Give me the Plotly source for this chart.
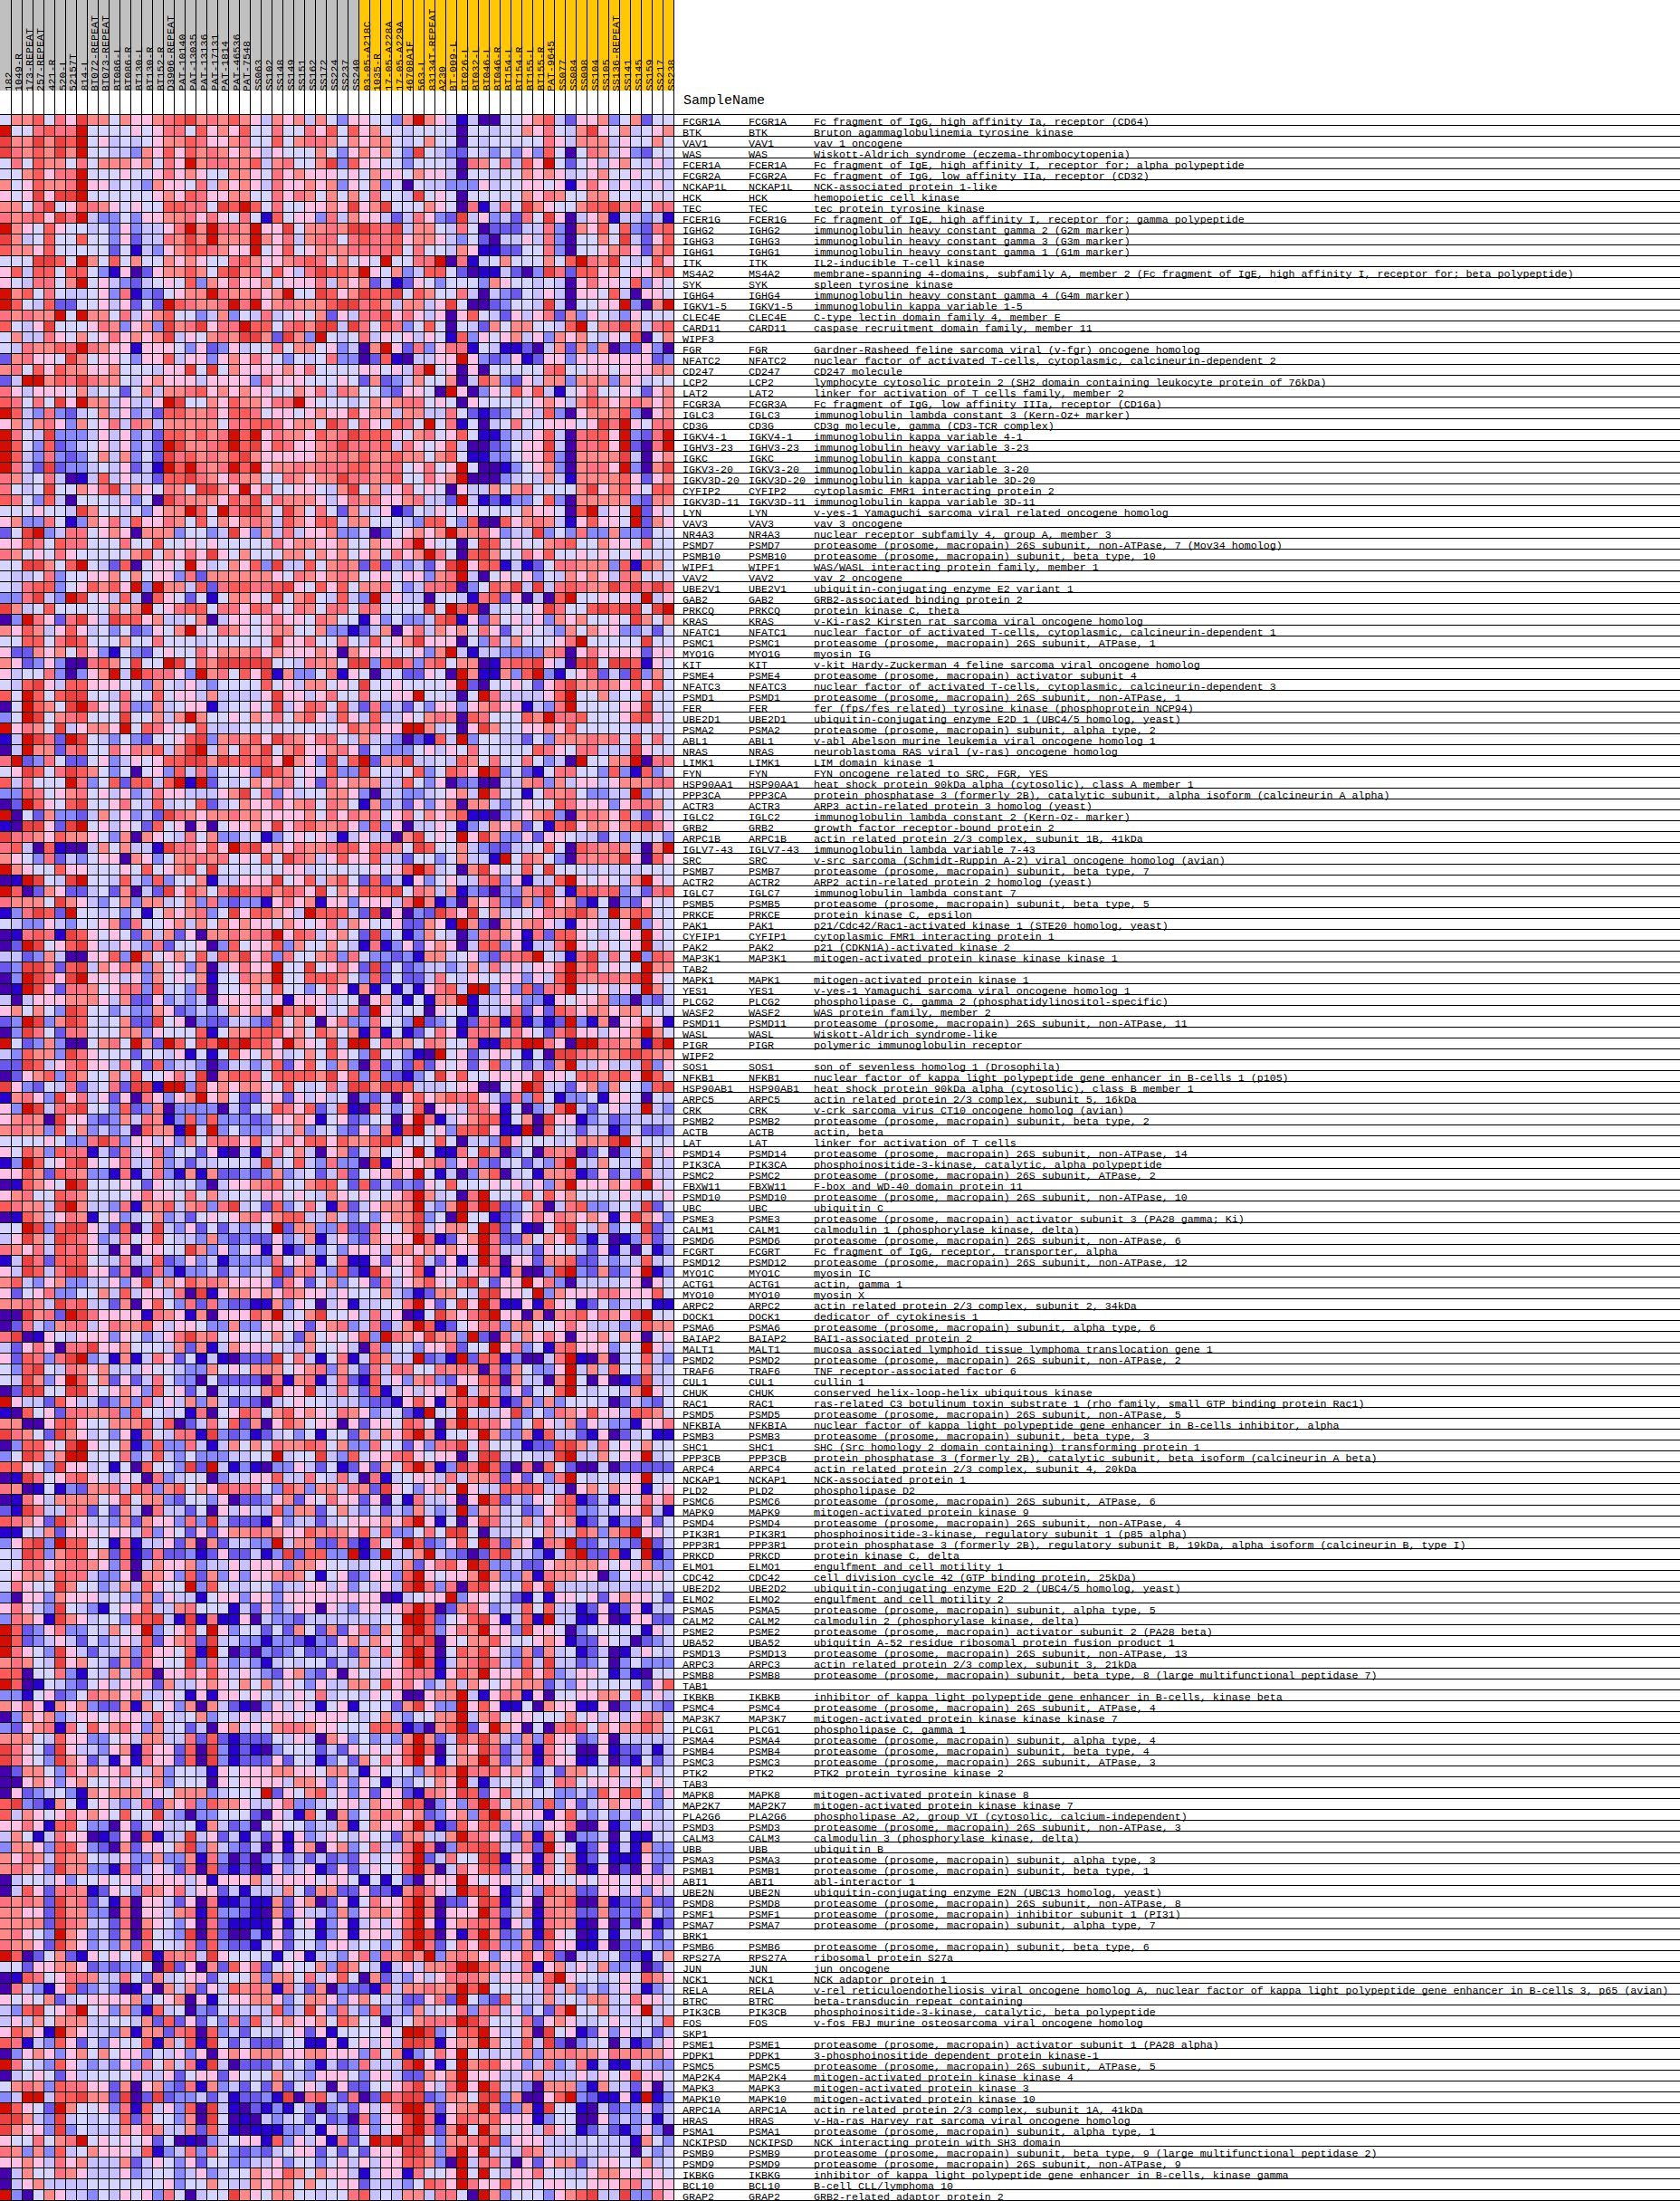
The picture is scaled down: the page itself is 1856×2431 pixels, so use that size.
import plotly.graph_objects as go

# sample groups, left to right
GROUP_A = ["182", "1049-R", "173-REPEAT", "257-REPEAT", "421-R", "520-L", "52157T", "814-L", "BT072-REPEAT",
           "BT073-REPEAT", "BT086-L", "BT086-R", "BT130-L", "BT130-R", "BT152-R", "D3906-REPEAT", "PAT-10140",
           "PAT-13035", "PAT-13136", "PAT-17131", "PAT-1814", "PAT-46536", "PAT-7548", "SS063", "SS102", "SS148",
           "SS149", "SS151", "SS162", "SS172", "SS224", "SS237", "SS240"]
GROUP_B = ["03-05-A218C", "1035-R", "17-05-A228A", "17-05-A229A", "46708A1F", "563-L", "83134T-REPEAT", "A230",
           "BT-009-L", "BT026-L", "BT032-L", "BT046-L", "BT046-R", "BT154-L", "BT154-R", "BT155-L", "BT155-R",
           "PAT-9645", "SS077", "SS084", "SS098", "SS104", "SS105", "SS136-REPEAT", "SS141", "SS145", "SS159",
           "SS217", "SS238"]

PROT = "proteasome (prosome, macropain) "
GENES = [
    ("FCGR1A", "Fc fragment of IgG, high affinity Ia, receptor (CD64)"),
    ("BTK", "Bruton agammaglobulinemia tyrosine kinase"),
    ("VAV1", "vav 1 oncogene"),
    ("WAS", "Wiskott-Aldrich syndrome (eczema-thrombocytopenia)"),
    ("FCER1A", "Fc fragment of IgE, high affinity I, receptor for; alpha polypeptide"),
    ("FCGR2A", "Fc fragment of IgG, low affinity IIa, receptor (CD32)"),
    ("NCKAP1L", "NCK-associated protein 1-like"),
    ("HCK", "hemopoietic cell kinase"),
    ("TEC", "tec protein tyrosine kinase"),
    ("FCER1G", "Fc fragment of IgE, high affinity I, receptor for; gamma polypeptide"),
    ("IGHG2", "immunoglobulin heavy constant gamma 2 (G2m marker)"),
    ("IGHG3", "immunoglobulin heavy constant gamma 3 (G3m marker)"),
    ("IGHG1", "immunoglobulin heavy constant gamma 1 (G1m marker)"),
    ("ITK", "IL2-inducible T-cell kinase"),
    ("MS4A2", "membrane-spanning 4-domains, subfamily A, member 2 (Fc fragment of IgE, high affinity I, receptor for; beta polypeptide)"),
    ("SYK", "spleen tyrosine kinase"),
    ("IGHG4", "immunoglobulin heavy constant gamma 4 (G4m marker)"),
    ("IGKV1-5", "immunoglobulin kappa variable 1-5"),
    ("CLEC4E", "C-type lectin domain family 4, member E"),
    ("CARD11", "caspase recruitment domain family, member 11"),
    ("WIPF3", None),
    ("FGR", "Gardner-Rasheed feline sarcoma viral (v-fgr) oncogene homolog"),
    ("NFATC2", "nuclear factor of activated T-cells, cytoplasmic, calcineurin-dependent 2"),
    ("CD247", "CD247 molecule"),
    ("LCP2", "lymphocyte cytosolic protein 2 (SH2 domain containing leukocyte protein of 76kDa)"),
    ("LAT2", "linker for activation of T cells family, member 2"),
    ("FCGR3A", "Fc fragment of IgG, low affinity IIIa, receptor (CD16a)"),
    ("IGLC3", "immunoglobulin lambda constant 3 (Kern-Oz+ marker)"),
    ("CD3G", "CD3g molecule, gamma (CD3-TCR complex)"),
    ("IGKV4-1", "immunoglobulin kappa variable 4-1"),
    ("IGHV3-23", "immunoglobulin heavy variable 3-23"),
    ("IGKC", "immunoglobulin kappa constant"),
    ("IGKV3-20", "immunoglobulin kappa variable 3-20"),
    ("IGKV3D-20", "immunoglobulin kappa variable 3D-20"),
    ("CYFIP2", "cytoplasmic FMR1 interacting protein 2"),
    ("IGKV3D-11", "immunoglobulin kappa variable 3D-11"),
    ("LYN", "v-yes-1 Yamaguchi sarcoma viral related oncogene homolog"),
    ("VAV3", "vav 3 oncogene"),
    ("NR4A3", "nuclear receptor subfamily 4, group A, member 3"),
    ("PSMD7", PROT + "26S subunit, non-ATPase, 7 (Mov34 homolog)"),
    ("PSMB10", PROT + "subunit, beta type, 10"),
    ("WIPF1", "WAS/WASL interacting protein family, member 1"),
    ("VAV2", "vav 2 oncogene"),
    ("UBE2V1", "ubiquitin-conjugating enzyme E2 variant 1"),
    ("GAB2", "GRB2-associated binding protein 2"),
    ("PRKCQ", "protein kinase C, theta"),
    ("KRAS", "v-Ki-ras2 Kirsten rat sarcoma viral oncogene homolog"),
    ("NFATC1", "nuclear factor of activated T-cells, cytoplasmic, calcineurin-dependent 1"),
    ("PSMC1", PROT + "26S subunit, ATPase, 1"),
    ("MYO1G", "myosin IG"),
    ("KIT", "v-kit Hardy-Zuckerman 4 feline sarcoma viral oncogene homolog"),
    ("PSME4", PROT + "activator subunit 4"),
    ("NFATC3", "nuclear factor of activated T-cells, cytoplasmic, calcineurin-dependent 3"),
    ("PSMD1", PROT + "26S subunit, non-ATPase, 1"),
    ("FER", "fer (fps/fes related) tyrosine kinase (phosphoprotein NCP94)"),
    ("UBE2D1", "ubiquitin-conjugating enzyme E2D 1 (UBC4/5 homolog, yeast)"),
    ("PSMA2", PROT + "subunit, alpha type, 2"),
    ("ABL1", "v-abl Abelson murine leukemia viral oncogene homolog 1"),
    ("NRAS", "neuroblastoma RAS viral (v-ras) oncogene homolog"),
    ("LIMK1", "LIM domain kinase 1"),
    ("FYN", "FYN oncogene related to SRC, FGR, YES"),
    ("HSP90AA1", "heat shock protein 90kDa alpha (cytosolic), class A member 1"),
    ("PPP3CA", "protein phosphatase 3 (formerly 2B), catalytic subunit, alpha isoform (calcineurin A alpha)"),
    ("ACTR3", "ARP3 actin-related protein 3 homolog (yeast)"),
    ("IGLC2", "immunoglobulin lambda constant 2 (Kern-Oz- marker)"),
    ("GRB2", "growth factor receptor-bound protein 2"),
    ("ARPC1B", "actin related protein 2/3 complex, subunit 1B, 41kDa"),
    ("IGLV7-43", "immunoglobulin lambda variable 7-43"),
    ("SRC", "v-src sarcoma (Schmidt-Ruppin A-2) viral oncogene homolog (avian)"),
    ("PSMB7", PROT + "subunit, beta type, 7"),
    ("ACTR2", "ARP2 actin-related protein 2 homolog (yeast)"),
    ("IGLC7", "immunoglobulin lambda constant 7"),
    ("PSMB5", PROT + "subunit, beta type, 5"),
    ("PRKCE", "protein kinase C, epsilon"),
    ("PAK1", "p21/Cdc42/Rac1-activated kinase 1 (STE20 homolog, yeast)"),
    ("CYFIP1", "cytoplasmic FMR1 interacting protein 1"),
    ("PAK2", "p21 (CDKN1A)-activated kinase 2"),
    ("MAP3K1", "mitogen-activated protein kinase kinase kinase 1"),
    ("TAB2", None),
    ("MAPK1", "mitogen-activated protein kinase 1"),
    ("YES1", "v-yes-1 Yamaguchi sarcoma viral oncogene homolog 1"),
    ("PLCG2", "phospholipase C, gamma 2 (phosphatidylinositol-specific)"),
    ("WASF2", "WAS protein family, member 2"),
    ("PSMD11", PROT + "26S subunit, non-ATPase, 11"),
    ("WASL", "Wiskott-Aldrich syndrome-like"),
    ("PIGR", "polymeric immunoglobulin receptor"),
    ("WIPF2", None),
    ("SOS1", "son of sevenless homolog 1 (Drosophila)"),
    ("NFKB1", "nuclear factor of kappa light polypeptide gene enhancer in B-cells 1 (p105)"),
    ("HSP90AB1", "heat shock protein 90kDa alpha (cytosolic), class B member 1"),
    ("ARPC5", "actin related protein 2/3 complex, subunit 5, 16kDa"),
    ("CRK", "v-crk sarcoma virus CT10 oncogene homolog (avian)"),
    ("PSMB2", PROT + "subunit, beta type, 2"),
    ("ACTB", "actin, beta"),
    ("LAT", "linker for activation of T cells"),
    ("PSMD14", PROT + "26S subunit, non-ATPase, 14"),
    ("PIK3CA", "phosphoinositide-3-kinase, catalytic, alpha polypeptide"),
    ("PSMC2", PROT + "26S subunit, ATPase, 2"),
    ("FBXW11", "F-box and WD-40 domain protein 11"),
    ("PSMD10", PROT + "26S subunit, non-ATPase, 10"),
    ("UBC", "ubiquitin C"),
    ("PSME3", PROT + "activator subunit 3 (PA28 gamma; Ki)"),
    ("CALM1", "calmodulin 1 (phosphorylase kinase, delta)"),
    ("PSMD6", PROT + "26S subunit, non-ATPase, 6"),
    ("FCGRT", "Fc fragment of IgG, receptor, transporter, alpha"),
    ("PSMD12", PROT + "26S subunit, non-ATPase, 12"),
    ("MYO1C", "myosin IC"),
    ("ACTG1", "actin, gamma 1"),
    ("MYO10", "myosin X"),
    ("ARPC2", "actin related protein 2/3 complex, subunit 2, 34kDa"),
    ("DOCK1", "dedicator of cytokinesis 1"),
    ("PSMA6", PROT + "subunit, alpha type, 6"),
    ("BAIAP2", "BAI1-associated protein 2"),
    ("MALT1", "mucosa associated lymphoid tissue lymphoma translocation gene 1"),
    ("PSMD2", PROT + "26S subunit, non-ATPase, 2"),
    ("TRAF6", "TNF receptor-associated factor 6"),
    ("CUL1", "cullin 1"),
    ("CHUK", "conserved helix-loop-helix ubiquitous kinase"),
    ("RAC1", "ras-related C3 botulinum toxin substrate 1 (rho family, small GTP binding protein Rac1)"),
    ("PSMD5", PROT + "26S subunit, non-ATPase, 5"),
    ("NFKBIA", "nuclear factor of kappa light polypeptide gene enhancer in B-cells inhibitor, alpha"),
    ("PSMB3", PROT + "subunit, beta type, 3"),
    ("SHC1", "SHC (Src homology 2 domain containing) transforming protein 1"),
    ("PPP3CB", "protein phosphatase 3 (formerly 2B), catalytic subunit, beta isoform (calcineurin A beta)"),
    ("ARPC4", "actin related protein 2/3 complex, subunit 4, 20kDa"),
    ("NCKAP1", "NCK-associated protein 1"),
    ("PLD2", "phospholipase D2"),
    ("PSMC6", PROT + "26S subunit, ATPase, 6"),
    ("MAPK9", "mitogen-activated protein kinase 9"),
    ("PSMD4", PROT + "26S subunit, non-ATPase, 4"),
    ("PIK3R1", "phosphoinositide-3-kinase, regulatory subunit 1 (p85 alpha)"),
    ("PPP3R1", "protein phosphatase 3 (formerly 2B), regulatory subunit B, 19kDa, alpha isoform (calcineurin B, type I)"),
    ("PRKCD", "protein kinase C, delta"),
    ("ELMO1", "engulfment and cell motility 1"),
    ("CDC42", "cell division cycle 42 (GTP binding protein, 25kDa)"),
    ("UBE2D2", "ubiquitin-conjugating enzyme E2D 2 (UBC4/5 homolog, yeast)"),
    ("ELMO2", "engulfment and cell motility 2"),
    ("PSMA5", PROT + "subunit, alpha type, 5"),
    ("CALM2", "calmodulin 2 (phosphorylase kinase, delta)"),
    ("PSME2", PROT + "activator subunit 2 (PA28 beta)"),
    ("UBA52", "ubiquitin A-52 residue ribosomal protein fusion product 1"),
    ("PSMD13", PROT + "26S subunit, non-ATPase, 13"),
    ("ARPC3", "actin related protein 2/3 complex, subunit 3, 21kDa"),
    ("PSMB8", PROT + "subunit, beta type, 8 (large multifunctional peptidase 7)"),
    ("TAB1", None),
    ("IKBKB", "inhibitor of kappa light polypeptide gene enhancer in B-cells, kinase beta"),
    ("PSMC4", PROT + "26S subunit, ATPase, 4"),
    ("MAP3K7", "mitogen-activated protein kinase kinase kinase 7"),
    ("PLCG1", "phospholipase C, gamma 1"),
    ("PSMA4", PROT + "subunit, alpha type, 4"),
    ("PSMB4", PROT + "subunit, beta type, 4"),
    ("PSMC3", PROT + "26S subunit, ATPase, 3"),
    ("PTK2", "PTK2 protein tyrosine kinase 2"),
    ("TAB3", None),
    ("MAPK8", "mitogen-activated protein kinase 8"),
    ("MAP2K7", "mitogen-activated protein kinase kinase 7"),
    ("PLA2G6", "phospholipase A2, group VI (cytosolic, calcium-independent)"),
    ("PSMD3", PROT + "26S subunit, non-ATPase, 3"),
    ("CALM3", "calmodulin 3 (phosphorylase kinase, delta)"),
    ("UBB", "ubiquitin B"),
    ("PSMA3", PROT + "subunit, alpha type, 3"),
    ("PSMB1", PROT + "subunit, beta type, 1"),
    ("ABI1", "abl-interactor 1"),
    ("UBE2N", "ubiquitin-conjugating enzyme E2N (UBC13 homolog, yeast)"),
    ("PSMD8", PROT + "26S subunit, non-ATPase, 8"),
    ("PSMF1", PROT + "inhibitor subunit 1 (PI31)"),
    ("PSMA7", PROT + "subunit, alpha type, 7"),
    ("BRK1", None),
    ("PSMB6", PROT + "subunit, beta type, 6"),
    ("RPS27A", "ribosomal protein S27a"),
    ("JUN", "jun oncogene"),
    ("NCK1", "NCK adaptor protein 1"),
    ("RELA", "v-rel reticuloendotheliosis viral oncogene homolog A, nuclear factor of kappa light polypeptide gene enhancer in B-cells 3, p65 (avian)"),
    ("BTRC", "beta-transducin repeat containing"),
    ("PIK3CB", "phosphoinositide-3-kinase, catalytic, beta polypeptide"),
    ("FOS", "v-fos FBJ murine osteosarcoma viral oncogene homolog"),
    ("SKP1", None),
    ("PSME1", PROT + "activator subunit 1 (PA28 alpha)"),
    ("PDPK1", "3-phosphoinositide dependent protein kinase-1"),
    ("PSMC5", PROT + "26S subunit, ATPase, 5"),
    ("MAP2K4", "mitogen-activated protein kinase kinase 4"),
    ("MAPK3", "mitogen-activated protein kinase 3"),
    ("MAPK10", "mitogen-activated protein kinase 10"),
    ("ARPC1A", "actin related protein 2/3 complex, subunit 1A, 41kDa"),
    ("HRAS", "v-Ha-ras Harvey rat sarcoma viral oncogene homolog"),
    ("PSMA1", PROT + "subunit, alpha type, 1"),
    ("NCKIPSD", "NCK interacting protein with SH3 domain"),
    ("PSMB9", PROT + "subunit, beta type, 9 (large multifunctional peptidase 2)"),
    ("PSMD9", PROT + "26S subunit, non-ATPase, 9"),
    ("IKBKG", "inhibitor of kappa light polypeptide gene enhancer in B-cells, kinase gamma"),
    ("BCL10", "B-cell CLL/lymphoma 10"),
    ("GRAP2", "GRB2-related adaptor protein 2"),
]

# colour bins, lowest to highest
PALETTE = ["#4500AD", "#2700D1", "#6B58EF", "#8888FF", "#C7C1FF", "#D5D5FF",
           "#FFC0E5", "#FF8989", "#FF7080", "#FF5A5A", "#EF4040", "#D60C00"]
BIN_KEYS = "abcdefghijkl"

# one row per gene, one letter per sample
CELLS = [
    "fhhjfigkhh fhgghijkhi hjhgehgheh fdggffdhlh gebeaaffgh jecgghdfhc ff",
    "lffijiilff ffgfgiifjg hgjffiffig jfjghffeff feaffeffhg ifehkgfhef gh",
    "khhkhkjlfg efefghhjig ghiffjfhii hfhghhfefh ffafefffff igehhhegff hf",
    "kihjhkhlff eedhgjgjhi hghgegfffh fdghghfdkf edcfedfdgd jfafihegdc ff",
    "fifjhhfifh hhghfiglhi ihhjehiffh kdjggffdff feaihfiejg lfcfgeghfe ge",
    "ffhjgiilff fgffgighgf fhhgfighgg gfgfhggfhg geaffeffhg hgefghffgf ff",
    "hfgjhhilgg efedhggfie hghgeigghg hdgfhdfafe edddgeffgg fgbgigegee ge",
    "gfgkgkklff ffffghgjig ghhffigihf hfhfiffekf gfafffffhg ihffhhffff ff",
    "hhfikfgjih gfgffjjiif kjljfiffgg hgkghkfffh gfaibeifkh gffhjjkhif ii",
    "ihijgkiled dfdgghhigi gfifbjfggd iehggeceig dckegdecif kgaeghbeed eb",
    "lhgfjgffef dgdeegilhl iihlggkfhh ihkkjikehh feifacccee idahgjfjdc ij",
    "khefjffjff dgceeihkhl hhhlhgiehi ifijiijghh gedfcaeege idaffhfkec gj",
    "jhhgjfffff cfbedghjji hgglfgjfgh hhiiiijfif fehgbbccff idaffghigc hj",
    "fffkkjflhf jfhffhghgf fijhgghiji fhfgflffii laibefhfff hfjlihkfef jg",
    "gjejjfjjfd bgacghhjhf jkhifjgeik jjhlgfhdej jfcabbecad kicjjghfgg hj",
    "gfeiifhlfg edcefgfjdh gigghfgggi ehghcebcgf dfffdhgffe feagiggfjd gf",
    "lhjfifeefg dibdcfghhl ihhighlffk jghkjjkfjh ffieaedcfe geaggfjeag gf",
    "ljfejccffg egcfcljihh ililghihhh jkkijhehhe gkfaacdffe keaffgglda hl",
    "ihihhlflhh fieghjffde hdfeiefgfh cgeiikgige gagjfecgeg ichdgfedgf ff",
    "jfegkfffgi hdghdkhikg iiljjfijhk kekifjidfj fafechfhhf fejlfhikhe ij",
    "fheeigfhfg ighghkegfh ihkkhckhdl fefiegfgeg fbjdgfgheg dhghfegfja fh",
    "feihhjilih ggbgggfdgc dgeffifhhf gdeahlgcid giibfebbca ehchdhaccg da",
    "chiggfkhfg gfdggjeggd ghgigfdfef iddacjbaee gglgdcdgbc ggdggggggg cd",
    "hifjgjhhgg hfffeggkfk fhgggghgif fffggfgeil fgagafffff ijffggfggg hh",
    "cellhjikih hfeghgggeg gggdigggff fgfchcdehf fhaejhdcge hhdhhhdhge ff",
    "igegggfhef fcfhehhijg hghggffhgi eihffdcggf algadgfjgj ebfgiffgfc gh",
    "jififkglhh egeeglkffh gjhhgiilgf ffefhghiif gfagfffffg hgehjhghih gh",
    "ljedidcefh egdecjjhhi gjjifggfgh ggjghhehhe eifcbcdfge jdaghhhjda gh",
    "ghehigdhfg ieihehhhhh fiijjighhf kifigfjifl fibfaefiff gggfgkilgf ii",
    "lifekdddeg egdecjjhjh iljlgihhgj hikjjjgfhi fgjfbbdeeg jeaijjgldc il",
    "ljfdjcdefg egdeclkhhi jljkgjiggh ikiiijeigf gjeaacdfgg keaiijglca il",
    "ljedidcdfh ehdfckijhi hjkhgggggh hihjhhjhhf hjfbbddfgg jdahhhhkea gh",
    "lieckcddef egcebljlih iljlghhihi iijjhiifgi fglfaabdfg hdahiiglda hk",
    "ihefieabej egeecjjkih gihhffihgh hkiihhjffi ghlaaadefe hebhhhhjgc gh",
    "ifefkffhgi kehgfihfkk hglgiffggf ehkfhegifg fageehfhif fffhkghjgf jj",
    "jifdjeafff egdfakihhh gjhkfihhhg egihigghie eclebcbddf jdahhhhhdc hh",
    "fffgffekhf fefdghhljf likkhfkhfi fcheegbcfe gfgfffffhg gfajlegflc gf",
    "ghddifbdhg iejggihfjf hghihejhgj jehhfffedj jfdjaajghi hebgjggflc hg",
    "cfkldeiifg hgahhhdffd ekgdheiegg hddeacfghg hlhhigdeek dfdiddhddc ff",
    "ggjifjiiff fiffjffgfg fffffighhg ghffhggilg ffafkjfgff hijffhggfi ff",
    "ihfgfigfff ffhjfhgigk gfhfffhhfh ghfghfighl ifajkhffig jffgfgffgf ff",
    "ffkkhfjlfe cjafggflge fhgjdkeejf hihcjcedec gklgjjbebc fiihhhdjbj hf",
    "feefidffgg hfhfggdich hhhhhgfihg hihfggfggd hileafgfgd fehghgeihf ff",
    "feijjdfgjh jgldlhhejc ijjiijkgfj gjfhhifdei ijadfjhkek eijihhkiki ki",
    "ddikedlkfg ejeajgfcfb fhhgfkfhjf ejedlegeea ffebijcgae ajlffgfgel eg",
    "khefjfffff hfhlfgijjf iigjigfihf iifiiffffk fljkaefffg kiffjkjkkf kl",
    "adligcikge kjjgheefha eggfgiggfi hffbgdfdde jkbgchfgeg dhghffgfkh fh",
    "hgjhegjgef dfcdgfhlgf ihgfghhffh ddbcehagie hghfigcfgf edhfhggdde cf",
    "ffjjfikjff fhffifffef fffffkggif fifejfghkg ggafdiehff fgilfffffk ff",
    "gcchghfigd bfdcfgffig hhhighgggh gahgggffgd hlebeedddd hiagiggggc gg",
    "hgcdgdaaij hfkfflkfjh kkkkkffeih hfkkdjkidi jfhhabijjk geakkfkkjb gf",
    "geffidadgh leljiigdlh ifjgkbhddf ibgfaefccg falhbbhdjl dbfgiceckd hf",
    "fejkgejjgg gffdhfeged ffffjfgehh fgfkffgfff fglcaffgfc gikhhihgjg jf",
    "jfljfjkkff eiffjfggeh eeeegkggeg iffiffgglf feaflieeee gjlffheffj ff",
    "afljhfklig fiddhefggb effgfkegji fjecidecfd ggdghiggbe dilffffggk ff",
    "dflkfhijff fkffhehlhf fgfhgifhjg ejgejeegfh ihajifffjh liijfffgjk gf",
    "lgihfkeghh glfjigffje eeffffffff fgjhiggllh efagkhffgg hgjfffffef ff",
    "belkiclkfe dfdcffgjkd hihjgkihgi ifeheedacb jeldffeecf dhhhihifjf if",
    "aelhhcijff igihjehkle hfjhkfhjgg higcfdddfg egfifffffj igfiieeekg ff",
    "ilcdifccfg degfgjjkkh kjjjjglhgd kejlchhkee fejhfiffif dealffhhla ii",
    "fgkjfikjhf dfafgdjeid ffgdkjhfgf jddkffefjd fjiglkdfcb fiiffdjdbj df",
    "jeifffl idf jcjjejlblc fefhghifgc ighhheejfd gacdaaeehi dheggeghhh ii",
    "ddjifghifg egdeiggeee ghkfidgeff hhgdaeedde fgheliffbf ihifddeeld ff",
    "acljgfjkff gifejeffjc efhggighif ihfbhdecgd ghahhedfgf fjigggdgii hf",
    "lafchddceh egdeckihgh hihhgggghf igihifgifh ghjbbadegh jdahihgjec gf",
    "bakkgcklfg egfcjfgaga fgghgkgijh higdjdgaee gfbdehghcf bjkghhghjk ig",
    "kiihgjhhgf dhahgfeifh ddefbdfgfg ebegeeahkf gflgkhddgc ggfeecfdfe fd",
    "ijeajbaaeh fheebkiigj gljkghgihh ijjgjihfkj ffhedcceef jfajihihea hl",
    "hgfdicedfg gahgdfhhih ifgfjfkihe gjggjeecff dfheeblfih fdaihihkga jg",
    "lhgffjggff fgfjfghjfk ffffffggef ffffgfgjlj efahkgffjf kfffefefef ff",
    "ablkfeklff ejedjdffhb eegggkfgje hjfcjcebgd fgeeijdgbe ejlgfgfehl gf",
    "ljachgccef chaeckgjhf ikjijhjigk fhgjjjkfih ehbdcaddhi kebjjijdec ij",
    "ihhhfkhged fhdhhefhdi dcddbgighb ggdgggeilh bdahgidchd jghcbfadcg ff",
    "bdikjclffe fdfbfhghid fkgjjhgelj jjeckagadc kigkfheffg ihjkhelhjj ff",
    "feddgedffg hciffghehf hghggfhgfg iehgffgcch gblhcahghi gebggeegld gf",
    "abijibkjgf gfchehcgah hihiilgjie ghfckdfbdh feadiihgbi cjjgfefggl gf",
    "aclkfgjkge egedicffga djfggjdhff hfebibdgcg hgaejjdgbe eilgfgffgl ef",
    "eecdheaagg jdlhfghfje jhkgidiffh idieddcdbh hefgdciijl febikeifld ji",
    "cdkkhcjkeh gihdhfgdha egigglffkf gigckcfcde edeheiegeg gilhjfgffl hh",
    "adlkigklgg gegdhfgfhb ffihhlffjj jhfdjcfcce ifegffggdg ejlihiihkl gf",
    "ablkgciihf giidjefdia ffghfjffdf igbhbfbebg ijelldgdjc iilffgegel hf",
    "eaeggghhhg ehccgdedea ggggegbggg effaghebfb hhlbeeggdd bgfgghddad ce",
    "ghfhfdkjff deddhgcded ehghglihkg eficlgeffa gffbeeeicg cjighhghhf ff",
    "cdlkdhkjfe fhcckfgadc ceedcjfhfa giddiffdlc dfbcijbkbd bcldbhaggj gb",
    "adkifciiff fhhdgfffjb fhhjjjghfj hfhbibfbcf igbiihfigf cikggegghl hf",
    "lfcdhdaafh iflhcljfkj lkljjglhgf kellfiihfi hffibbkjll igalliihhb kl",
    "edjhhdkigf ffcffegbfb fjgfhgefhf jgfdkffdba lfgceggfbf akkihhhjkj hh",
    "cckjegijgg eifcjdeeda ceedejcgjf dhdaicecjc gfgcgjdfce chleegeeek dg",
    "acghjdjhff hejffgieka hjjifjjjjh kgjdjdcbdf kgjffggggk ggfjjhjjgl jf",
    "kgdcfeicef ickkblldkg hghhgfjfef iekkhkjjee efggaafglk eecghdhffd jk",
    "bhigdkgieg cgaigdghlg hfccggcgeg efadceagjg hjijgecidj fbddfbggfa fe",
    "gdlkeijkff djcdhadddd aecffjigjc ejbajedfja ggeiigbfad ejlecfgeel ed",
    "ghihakggdc dheihbdjdj dddcdgghgb fgcdffagli beghjjbfha kggbdecdee ee",
    "hihhdjfhde deajhhblel dfdddeehde fdcgdhbklf gdjjkgbbla jfeceebdfc cd",
    "ffffgfddik idggegdhfi iigjfgigjj gjhhjkjfff jfaeedkgff fefhhhklgf ff",
    "gfjhdjiibe ciegidffcg baebeifhea ghcehffglf bbifkhadfa ihiacfadfh eg",
    "bdljfgjkgf gieehdecee fffekefjed iddakbgggh idgidcefce dileehfefk fe",
    "ggjhcjihdd bibeidbhbh ccdcdhdefc eicfgghglf beadhjaefb hhibcgcech ee",
    "abjhgflkff fgfcgfefda egghijffhj jfcjcecdcg fjfffgfgeg dhlggghgjl gf",
    "ghiffjihff ffgiggfifh efffggfgfe hgfgffgilh efailfffjf jghffffgff fg",
    "jihheklhee dibhhjehid ikefcjdfif biceghhhle dhlilkcdfi aeijddefek cf",
    "abjhegihbf gdefhdecfg fghighjjee hedfdghhkd falffbcdgi gihghgbgkh gd",
    "fflkdjkkge cjaekedgcf cedeflchhd dicciffhke ghhflkcfba fjkfehdffk ce",
    "egkhekjigd eifgjfeedh dcdccgdehb egdchgggli bcghlicchf hgkdbeabdi ce",
    "ihgiejijge agaggffkhd gdfgbgbced fdgggehhgh ghggliee ec gffecgbeaf bd",
    "bekicjjjfe eieejcdgde bddddifghb fibbgcggje cgbeliaggc hhjccedeej ef",
    "gekjeikkgg ciacidbdde cedefkchie djcbkgfgjb ggegiibhaa dkldchcdgl bd",
    "hjedghddee gdgkehgjhi hggggcigcf hdfgcieghj gfjkfcgglg idaeeeefga gf",
    "gcfgiddffh ejeggeiakb ghhghgihgg egfffhedbc hhfekkggfl dhgggiiggg jf",
    "hhihekijee chagjfdici dccbbhdgfa egbeeffilg cfkglibbgb jgfbcfdeef bb",
    "aakhiclkig gggbihgbha gggjhlefhk ffgeiegabf khgiklggah ahijgihgkl ff",
    "aciedhiieg ihhjgeggfd dhddggfgcg hideicehlj bcfgiidhhf fgigeeedej hh",
    "ikabgfeggg dgfdegikhi fgfffhfchf gfgjdlihgk hhdlcaiehg igagghfhga fg",
    "ecgigaiikg ghfffehchb ehgggfeehf fgeaidffdg gicfflgidf bijgggdffl ge",
    "gcjidiklde bhbeigcfbe baccckfieb fibejheelc dblcjjbdaa eilbahaefj ed",
    "fdjkfeihgh eeegffeddh fgfhhhfghi dhecieiiff ihihaichfd dglehejffh ef",
    "fekhdgljfh cgceifddaf ccccaibhib eicbjegdhi dcggjjahee ahlfagabck ee",
    "ackkffkkgf ghgdjfgcfa efefhkggke eiecjbegeg ghlehhdgcf fjlfeffehl gf",
    "lgeecjgeec dhdiegehdh ecdcaefgff eeedccbgjg bhjilibchd hdfffeaced cf",
    "bajfgciihh idjffefbia fgjifhjghg fihgdefcbl fflfeegkdf dihgjggejj hf",
    "hhaagjjgff hhhjejacei fjchagjhfg gagcggfjif ahljiigdfj gehcgeddbg gi",
    "kihfckhgef dgbifeiibk dcdbcefdfb ffchehgjlh bffglhddhb jeecbgacef bb",
    "adjjgfklgf fhbdjddieb ehfhfihhji fhddiffcgd iikfifffbc cjkheifgfh ff",
    "dfkjehllff fidejedfdd deeffleffk edjeggijgf ggafkkeffe ekleehfggl ef",
    "jjgfdkggef bfajffdkcl ebdbaddgec fbcgchfjlh bdkiljcaia jfcaaeaccc cc",
    "abkifgijgf egfaideffa deeggjeeif eieaibefgg eiehhicgcf dilfefefgl ff",
    "ihabfbdchh iejidhjfhg jiiifdjhdh heihckgfdg hflgeejjjj eeaghfhggb fg",
    "abigehhhhf gjfhhdcffd gaccdghcgf iggcgafbie egagljcedg fijbcebffi gi",
    "cbkieeiicf cheaieecfa gegeejdhhc fhedfcedhe deldhhefcd ghjddeeggk eb",
    "jihgckhgee dhchggdidk ecccbgdeec efggghgjlg bfagkiefhe ighbcebdcg cf",
    "bbfehcgggf ggeidgfcgc ghhihhggjh ihgjejddfi fkkfaeefff heejhdhjlg gf",
    "dgjkdljjff bibeegchah ceeddlehhc cicbifgljc dgjflichgb ihlcceddcl ce",
    "fekjdhjjgh cjbciccdbc gccebdkcjj ddlbdleehl edcacjkeed beklccjbfl bd",
    "ffiighiihg diaehgghde egegggdhhg ffeeffehcg ijglkddecc ghhhhgfgeh dd",
    "fghhejiied dgahhgdjch dgdgghihfb fgcdggdjlg fgghlhddhb ihhggadfgg gf",
    "figffkhffd ehejgffldj feeffdeegg egdfegekli diajkgffjg keeeeeeeee ff",
    "daggdhggge fedhdgeebf ggdggdgggg gggggabefg gldggfecbf bggfgcghgg fc",
    "gigedkfedb fggjeehiff fbecgdegga gedggegilj achigdeejf jeebcgbcgb ee",
    "dihgbkhgef fdjjkebkbi bbgaeddcee eeeeeffllj cfgjkgbejb leebbgabgg cc",
    "ljcdgiddfe hfgldfgjfl gdffcfchfc hcgidhfklj dgihlggdkg gfadfffffb gf",
    "ljcdegecfd egejcghick eeddbddcbd cghehgfkjk agfhhjgffg hgbccgfeac de",
    "ligfdkgece ehdjggfjbl facadcdfcc eecheifkli afjhkgedhc hefbceabeg fe",
    "hihfekghfe chcigffkdi ededbefeff ceehfegjlj behikiedje keecdfadfd dd",
    "jjaffidbfe hehjaggigj gegedcghdc gagfeggiii bgjhlgggjg jdeggfbdba ff",
    "ljabfedcfg egggcheegh gfhfhegfdg eehhfjgigd ehehgfghhh cedgfffffc gj",
    "ddbfgcdfih hgheegfbgb ggfgfefgfi effegfgaag hhlebgihbg affgghhfje ge",
    "hgigbhghdc chbhfgdhah ecbadgegeb fgbfffchkg ddlgjgbbfa hggbbgacee dc",
    "adhghdeggf gggeifefhd fegegggfgg ggfefhedff hhlehifggf ffhfgegegi hf",
    "dcghibifjg higdhefcea ghegfhiihg gfffjjibca hjlcglhgaf aijifhghhj hf",
    "hhhfejggdd fgehheeicj cbcccfegea hgdfdedhlh cekhkhedhd jggcdgaeee ee",
    "kigfckgeed ghbiggcjak dbcbadfffc ecgfgfgjlj afhgkiceib igfaagbcce be",
    "kigfdkhgce bgbiggcjak dbcccgcfeb dfchfigjlg bfhhlhcehb iggbbfacbf ce",
    "achhfdighg gifehdffeb gfggghhggf hhebgfffdh jhliijghgd fchhffhfgh ef",
    "aaghgdghff geggh dfffa gfggggehhg dgdgfbedff hglebefffc fiifgggegf gf",
    "agcdefdbhg hhhegfhhhd efffl cgfhj egdgcggcbi hgkjcgifff fddedjgjjf dg",
    "jkdcbhfbfg edeichgidj hhgeegidde fggehggkja dgdilifhhd jdgceghgeg df",
    "jehgfgighg fjffkedadd fffcagebjf ahdfhihghc dghdjlhggg bgjedfdecf ef",
    "ggigbjjfdd agcegeefbh ecdafgffde ehbfhgghli bcjgjjdged ggiaagbdfg ee",
    "ehfbeiggab cgajbeekeg cebecgbgde gfegffchhe ehliigechb jfaddeafbb ff",
    "dhhgdjjgdc ahcggfhkdh edceagbgha ghdfieeili adjjkjeeic lgfbcgbebh dd",
    "hgihejhhfe egddhddhbi dacadecece cdcgefgilc eiffkkbggb ifhbcfbbbg dd",
    "hihgdkhhdd bicegeciaj cbcabgdegb cgcegffjlh aeigjjcehb ifhabgacag ce",
    "aeffegdffg fggegggegb gggheggggf ggfbfbfcag gglgfggffg gffgfggfgg gg",
    "aejgciihbc gfdihgiegg cebeeehfch hccgccbhki geljkgbdgd jhhccggegd gf",
    "ihihckhice biaggecgai bbcbbhcgha cgbfiggjlh accgkjbega hhjaahbcch cc",
    "hhggckhhdd aiaggehibj ddcbahcgee dhdghhgjlh agggl icehb ihhcchcdch ed",
    "hhhhckihee ciahgfdgai cbbbbgbfgb dgbegegjlg bghijibgeb ihhbagadag bc",
    "higfdlhgde chajfedkaj caadbgcffb dgbgggeklk agbilhcdhb kgfabfbeeg cf",
    "ihhgckhgde dhciffeicj dccbegcffd ggeffdfjli cfigkiddhc iggbbgaccf dd",
    "ljacfhcbgf gfgkbihiek gffffbfgbe edgidihkhl dhihgdggjg jcaeeefccb fh",
    "ffcgghhgcd cddfakcgah cjgicfgffh djhfebegeh hilljheeib ghegehddea cf",
    "abjifgiihe eifchefggc fffhdhhfie gjfahcedge giiihegghe jlgffefgfj hg",
    "aiedbgjcde dabgahehcg ejhihbiech adccbiehhi hhljlffffe iehdedegeb df",
    "gfgfhcefgg gghdfghagb fgghhgdfhh gdghfeeccg iclfdcjfee hefehhefig gf",
    "edjkfgilfg dhdbjefadc feeeejdekg diedjdedhe ffidiiegdf cilffheegl ef",
    "egehfhhhee ffehcjcgcf didjeghggh fjhffaefhi iilkifffic ghgeefgfef ej",
    "gjhgblhgee dhbhhcijaj decffefgcg bffffgfllk dfjjlgefha kfgbcgdgef ce",
    "jibedjgcfd gffjbhejbk fcecccffbb gbfgegekkj bghhlhfeje kcadefaebc eg",
    "adghgdghfh fggdfegdga ghghhhgghh gggdifhbdf iglfeefehd hhihhgihih hg",
    "lifedjgede dgdifheibk eacccedfdb ecdieeeklg bflhjjggde ideibebbee dd",
    "aefgfcgeff ffgeegcfgg cgfffhfedg ggfdggecch ghlgggeegh eeegegfgjg gf",
    "fhihdjiigg chaghdcibh decfchcfge agccffgikg eilgljeeda hhhdbheecg ae",
    "delle jjkhh ckackcddec ebccdbkaij eciackikkc dhhfkkdhaa gjldcbbgbl bd",
    "ljgfclhffg dibjegdjak ebacbdbfda decgegillh cghhlhcdhb kffbaecddg ce",
    "kkhedkefef ejciffdhak fabaedefcf cdaidggkli bgjihjgggb dffaagdede be",
    "khggdkdfee ehgiheehcj ebabbbddeb gecgdfgkli chlflhffge igfbcecbdg da",
    "gffifhilfg fgfgcfabad efggbjdgeg bicflklkkf dhhijkdggg eeeefeeebh fd",
    "ihdhdjefhg ggejbdeidi fdcdcefggc fcfcgggkkh dilgleeeih eeeeeeefaf de",
    "gghgeighee ehcegfdgcf fddeegdffd fgegeggjjh daleiieagc ghhceggffh ef",
    "aehffihgee egdeffdegd effhggjhfh ggebeggbif fglflfeggi ffeeghhggg gf",
    "aegheeeeff fffffgdffh feehghhfhf fggceeedfj igliggjggf ggffggghie gg",
    "ldafhgeedf egfgdifaef fkhgfhhffe ffijefehhe iifalhdfff dghjkeekdd ig",
]

CELL = 12.0                # px per column and row
TOP = 126.0                # px above the first row
HEADER_BOTTOM = 100.0      # px, bottom of the coloured header band
WIDTH, HEIGHT = 1856, 2431

samples = GROUP_A + GROUP_B
rows = [r.replace(" ", "") for r in CELLS]
bad = [(i, len(r)) for i, r in enumerate(rows) if len(r) != len(samples)]
if bad or len(rows) != len(GENES):
    raise SystemExit(f"rows {len(rows)} genes {len(GENES)} bad {bad}")

z = [[BIN_KEYS.index(c) for c in r] for r in rows]
n = len(PALETTE)
colorscale = []
for i, col in enumerate(PALETTE):
    colorscale += [[i / n, col], [(i + 1) / n, col]]

xs = [i + 0.5 for i in range(len(samples))]
ys = [i + 0.5 for i in range(len(rows))]

fig = go.Figure()
fig.add_trace(go.Heatmap(z=z, x=xs, y=ys, zmin=-0.5, zmax=n - 0.5, colorscale=colorscale,
                         showscale=False, hoverinfo="skip"))

# header band, grey and orange groups
head_edges = [-TOP / CELL, -(TOP - HEADER_BOTTOM) / CELL]
fig.add_trace(go.Heatmap(z=[[0] * len(GROUP_A) + [1] * len(GROUP_B)],
                         x=list(range(len(samples) + 1)), y=head_edges, zmin=0, zmax=1,
                         colorscale=[[0, "#C0C0C0"], [1, "#FFC800"]],
                         showscale=False, hoverinfo="skip"))

# gene table to the right of the grid
TEXT_Y = 0.78
text_font = dict(family="Liberation Mono", size=11.67, color="black")
for col_px, labels in [(754, [g[0] for g in GENES]),
                       (827, [g[0] if g[1] else "" for g in GENES]),
                       (899, [g[1] or "" for g in GENES])]:
    fig.add_trace(go.Scatter(x=[col_px / CELL] * len(GENES), y=[i + TEXT_Y for i in range(len(GENES))],
                             mode="text", text=labels, textposition="middle right",
                             textfont=text_font, cliponaxis=False, hoverinfo="skip"))

fig.add_annotation(x=754 / CELL, y=(111 - TOP) / CELL, text="SampleName", showarrow=False,
                   xanchor="left", yanchor="middle", xshift=-1,
                   font=dict(family="Liberation Mono", size=15, color="black"))

for x, name in zip(xs, samples):
    fig.add_annotation(x=x, y=-(TOP - HEADER_BOTTOM) / CELL, text=name, showarrow=False, textangle=-90,
                       xanchor="center", yanchor="bottom", yshift=-3, xshift=3,
                       font=dict(family="Liberation Mono", size=11.67, color="black"))

# grid: verticals between samples, horizontals under every row
PX = 0.5 / CELL
line = dict(color="black", width=1)
shapes = []
for i in range(1, len(samples) + 1):
    shapes.append(dict(type="line", xref="x", yref="y", x0=i + PX, x1=i + PX,
                       y0=-TOP / CELL, y1=len(rows) + 1, line=line))
for i in range(len(rows) + 1):
    shapes.append(dict(type="line", xref="x", yref="y", x0=0, x1=WIDTH / CELL,
                       y0=i + PX, y1=i + PX, line=line))

fig.update_layout(width=WIDTH, height=HEIGHT, margin=dict(l=0, r=0, t=0, b=0),
                  paper_bgcolor="white", plot_bgcolor="white", showlegend=False, shapes=shapes,
                  xaxis=dict(range=[0, WIDTH / CELL], visible=False, fixedrange=True),
                  yaxis=dict(range=[(HEIGHT - TOP) / CELL, -TOP / CELL], visible=False, fixedrange=True))

fig.write_html("out.html", config={"displayModeBar": False}, post_script="document.body.style.margin='0';")
